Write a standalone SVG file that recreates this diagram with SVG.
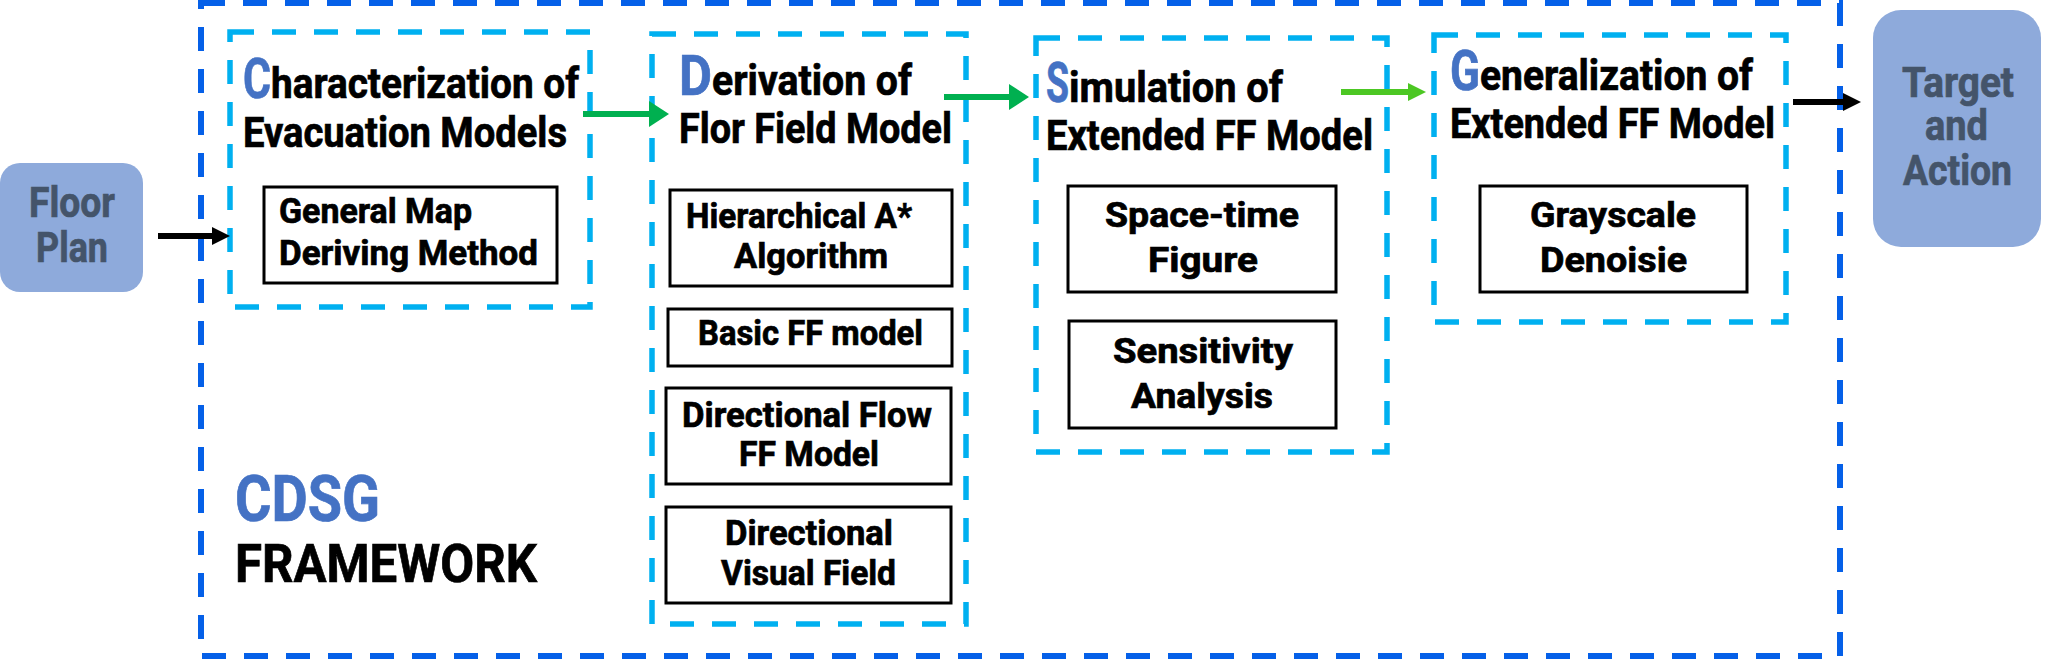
<svg xmlns="http://www.w3.org/2000/svg" width="2045" height="659" viewBox="0 0 2045 659">
<style>
  text { font-family: Roboto, "Liberation Sans", sans-serif; font-weight: 700; fill: #000; stroke: #000; stroke-width: 0.7px; }
  .outer { fill: none; stroke: #0560e8; stroke-width: 6; stroke-dasharray: 24 18; }
  .phase { fill: none; stroke: #00b0f0; stroke-width: 5.5; stroke-dasharray: 24 18; }
  .box { fill: #fff; stroke: #000; stroke-width: 3; }
  .term { fill: #8eaadb; }
  .termtxt { fill: #44546a; stroke: #44546a; font-size: 42px; }
  .title { font-size: 42px; }
  .big { font-size: 56px; fill: #4472c4; stroke: #4472c4; }
  .inner { font-size: 35px; }
  .cdsg { font-size: 64px; fill: #4472c4; stroke: #4472c4; }
  .fw { font-size: 54px; }
  .cblack { stroke: #000; stroke-width: 6; fill: none; }
  .cgreen { stroke: #00b050; stroke-width: 6; fill: none; }
  .clime { stroke: #4cc723; stroke-width: 6; fill: none; }
</style>
<defs>
  <marker id="ah-black" markerUnits="userSpaceOnUse" markerWidth="18" markerHeight="18" refX="0" refY="9" orient="auto">
    <path d="M0,0 L18,9 L0,18 Z" fill="#000"/>
  </marker>
  <marker id="ah-green" markerUnits="userSpaceOnUse" markerWidth="20" markerHeight="26" refX="0" refY="13" orient="auto">
    <path d="M0,0 L20,13 L0,26 Z" fill="#00b050"/>
  </marker>
  <marker id="ah-lime" markerUnits="userSpaceOnUse" markerWidth="18" markerHeight="18" refX="0" refY="9" orient="auto">
    <path d="M0,0 L18,9 L0,18 Z" fill="#4cc723"/>
  </marker>
</defs>

<g id="framework">
  <rect class="outer" x="201" y="3" width="1639" height="653"/>
  <text class="cdsg" x="235" y="521" textLength="145" lengthAdjust="spacingAndGlyphs">CDSG</text>
  <text class="fw" x="235" y="582" textLength="302" lengthAdjust="spacingAndGlyphs">FRAMEWORK</text>
</g>

<g id="floor-plan">
  <rect class="term" x="0" y="163" width="143" height="129" rx="20"/>
  <text class="termtxt" x="29" y="217" textLength="86" lengthAdjust="spacingAndGlyphs">Floor</text>
  <text class="termtxt" x="36" y="262" textLength="72" lengthAdjust="spacingAndGlyphs">Plan</text>
</g>

<g id="target-action">
  <rect class="term" x="1873" y="10" width="168" height="237" rx="28"/>
  <text class="termtxt" x="1902" y="97" textLength="112" lengthAdjust="spacingAndGlyphs">Target</text>
  <text class="termtxt" x="1925" y="140" textLength="63" lengthAdjust="spacingAndGlyphs">and</text>
  <text class="termtxt" x="1903" y="185" textLength="109" lengthAdjust="spacingAndGlyphs">Action</text>
</g>

<g id="characterization">
  <rect class="phase" x="230" y="32" width="360" height="275"/>
  <text class="title" y="98"><tspan class="big" x="243" textLength="28" lengthAdjust="spacingAndGlyphs">C</tspan><tspan textLength="308" lengthAdjust="spacingAndGlyphs">haracterization of</tspan></text>
  <text class="title" x="243" y="147" textLength="324" lengthAdjust="spacingAndGlyphs">Evacuation Models</text>
</g>
<g id="general-map">
  <rect class="box" x="264" y="187" width="293" height="96"/>
  <text class="inner" x="279" y="223" textLength="193" lengthAdjust="spacingAndGlyphs">General Map</text>
  <text class="inner" x="279" y="265" textLength="259" lengthAdjust="spacingAndGlyphs">Deriving Method</text>
</g>

<g id="derivation">
  <rect class="phase" x="652" y="34" width="314" height="590"/>
  <text class="title" y="95"><tspan class="big" x="679" textLength="33" lengthAdjust="spacingAndGlyphs">D</tspan><tspan textLength="200" lengthAdjust="spacingAndGlyphs">erivation of</tspan></text>
  <text class="title" x="679" y="143" textLength="273" lengthAdjust="spacingAndGlyphs">Flor Field Model</text>
</g>
<g id="hierarchical">
  <rect class="box" x="670" y="190" width="282" height="96"/>
  <text class="inner" x="686" y="228" textLength="226" lengthAdjust="spacingAndGlyphs">Hierarchical A*</text>
  <text class="inner" x="734" y="268" textLength="154" lengthAdjust="spacingAndGlyphs">Algorithm</text>
</g>
<g id="basic-ff">
  <rect class="box" x="668" y="309" width="284" height="57"/>
  <text class="inner" x="698" y="345" textLength="225" lengthAdjust="spacingAndGlyphs">Basic FF model</text>
</g>
<g id="directional-flow">
  <rect class="box" x="666" y="388" width="285" height="96"/>
  <text class="inner" x="682" y="427" textLength="250" lengthAdjust="spacingAndGlyphs">Directional Flow</text>
  <text class="inner" x="739" y="466" textLength="140" lengthAdjust="spacingAndGlyphs">FF Model</text>
</g>
<g id="directional-visual">
  <rect class="box" x="666" y="507" width="285" height="96"/>
  <text class="inner" x="725" y="545" textLength="168" lengthAdjust="spacingAndGlyphs">Directional</text>
  <text class="inner" x="721" y="585" textLength="175" lengthAdjust="spacingAndGlyphs">Visual Field</text>
</g>

<g id="simulation">
  <rect class="phase" x="1036" y="38" width="351" height="414"/>
  <text class="title" y="102"><tspan class="big" x="1046" textLength="23" lengthAdjust="spacingAndGlyphs">S</tspan><tspan textLength="214" lengthAdjust="spacingAndGlyphs">imulation of</tspan></text>
  <text class="title" x="1046" y="150" textLength="327" lengthAdjust="spacingAndGlyphs">Extended FF Model</text>
</g>
<g id="space-time">
  <rect class="box" x="1068" y="186" width="268" height="106"/>
  <text class="inner" x="1105" y="227" textLength="194" lengthAdjust="spacingAndGlyphs">Space-time</text>
  <text class="inner" x="1148" y="272" textLength="110" lengthAdjust="spacingAndGlyphs">Figure</text>
</g>
<g id="sensitivity">
  <rect class="box" x="1069" y="321" width="267" height="107"/>
  <text class="inner" x="1113" y="363" textLength="180" lengthAdjust="spacingAndGlyphs">Sensitivity</text>
  <text class="inner" x="1131" y="408" textLength="142" lengthAdjust="spacingAndGlyphs">Analysis</text>
</g>

<g id="generalization">
  <rect class="phase" x="1434" y="35" width="352" height="287"/>
  <text class="title" y="90"><tspan class="big" x="1450" textLength="30" lengthAdjust="spacingAndGlyphs">G</tspan><tspan textLength="273" lengthAdjust="spacingAndGlyphs">eneralization of</tspan></text>
  <text class="title" x="1450" y="138" textLength="325" lengthAdjust="spacingAndGlyphs">Extended FF Model</text>
</g>
<g id="grayscale">
  <rect class="box" x="1480" y="186" width="267" height="106"/>
  <text class="inner" x="1530" y="227" textLength="166" lengthAdjust="spacingAndGlyphs">Grayscale</text>
  <text class="inner" x="1540" y="272" textLength="147" lengthAdjust="spacingAndGlyphs">Denoisie</text>
</g>

<g id="connectors">
  <line class="cblack" x1="158" y1="236" x2="212" y2="236" marker-end="url(#ah-black)"/>
  <line class="cgreen" x1="583" y1="114" x2="649" y2="114" marker-end="url(#ah-green)"/>
  <line class="cgreen" x1="944" y1="97" x2="1009" y2="97" marker-end="url(#ah-green)"/>
  <line class="clime" x1="1341" y1="92" x2="1408" y2="92" marker-end="url(#ah-lime)"/>
  <line class="cblack" x1="1793" y1="102" x2="1843" y2="102" marker-end="url(#ah-black)"/>
</g>
</svg>
